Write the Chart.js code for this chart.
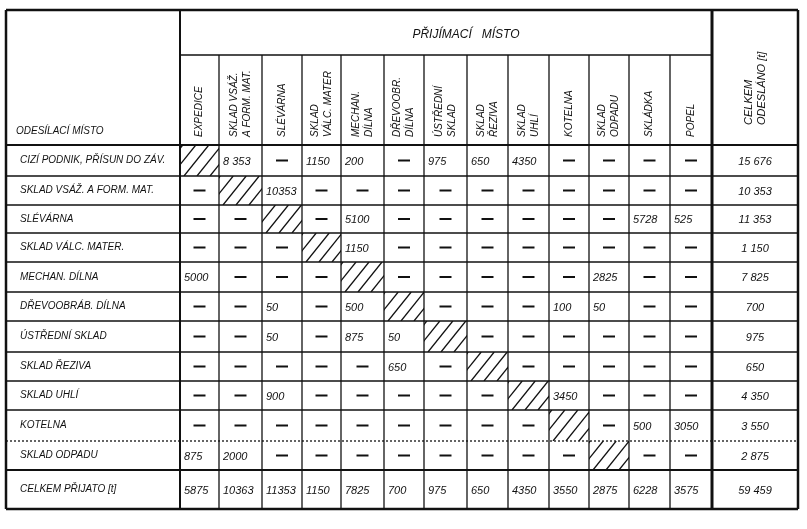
<!DOCTYPE html>
<html><head><meta charset="utf-8">
<script src="https://cdn.jsdelivr.net/npm/chart.js@4"></script>
<style>html,body{margin:0;background:#fff}#w{width:807px;height:529px}</style>
</head><body><div id="w"><canvas id="c"></canvas></div>
<script>
// ---- data ----
const receivers = [["EXPEDICE"],["SKLAD VSÁŽ.","A FORM. MAT."],["SLÉVÁRNA"],["SKLAD","VÁLC. MATER"],["MECHAN.","DÍLNA"],["DŘEVOOBR.","DÍLNA"],["ÚSTŘEDNÍ","SKLAD"],["SKLAD","ŘEZIVA"],["SKLAD","UHLÍ"],["KOTELNA"],["SKLAD","ODPADU"],["SKLÁDKA"],["POPEL"]];
const senders = ["CIZÍ PODNIK, PŘÍSUN DO ZÁV.","SKLAD VSÁŽ. A FORM. MAT.","SLÉVÁRNA","SKLAD VÁLC. MATER.","MECHAN. DÍLNA","DŘEVOOBRÁB. DÍLNA","ÚSTŘEDNÍ SKLAD","SKLAD ŘEZIVA","SKLAD UHLÍ","KOTELNA","SKLAD ODPADU"];
const X = "X";
const flows = [
 [X,"8 353",null,"1150","200",null,"975","650","4350",null,null,null,null],
 [null,X,"10353",null,null,null,null,null,null,null,null,null,null],
 [null,null,X,null,"5100",null,null,null,null,null,null,"5728","525"],
 [null,null,null,X,"1150",null,null,null,null,null,null,null,null],
 ["5000",null,null,null,X,null,null,null,null,null,"2825",null,null],
 [null,null,"50",null,"500",X,null,null,null,"100","50",null,null],
 [null,null,"50",null,"875","50",X,null,null,null,null,null,null],
 [null,null,null,null,null,"650",null,X,null,null,null,null,null],
 [null,null,"900",null,null,null,null,null,X,"3450",null,null,null],
 [null,null,null,null,null,null,null,null,null,X,null,"500","3050"],
 ["875","2000",null,null,null,null,null,null,null,null,X,null,null]
];
const sentTotals = ["15 676","10 353","11 353","1 150","7 825","700","975","650","4 350","3 550","2 875"];
const receivedTotals = ["5875","10363","11353","1150","7825","700","975","650","4350","3550","2875","6228","3575"];
const grandTotal = "59 459";
const titleText = "PŘIJÍMACÍ   MÍSTO";
const senderHead = "ODESÍLACÍ MÍSTO";
const totalHead = ["CELKEM","ODESLÁNO [t]"];
const receivedHead = "CELKEM PŘIJATO [t]";

// ---- layout (grid edges in scale units) ----
const colEdges = [6,180,219,262,302,341,384,424,467,508,549,589,629,670,712,798];
const rowEdges = [10,55,145,176,205,233,262,292,321,352,381,410,441,470,509];

const F = "italic 11px 'Liberation Sans', 'DejaVu Sans', sans-serif";
const tablePlugin = {
  id:'table',
  afterDraw(chart){
    const c = chart.ctx, xs = chart.scales.x, ys = chart.scales.y;
    const px = v=>xs.getPixelForValue(v), py = v=>ys.getPixelForValue(v);
    const L=px(colEdges[0]), R=px(colEdges[15]), T=py(rowEdges[0]), B=py(rowEdges[14]);
    c.save(); c.strokeStyle='#111'; c.fillStyle='#111';
    const line=(x1,y1,x2,y2,w,dash)=>{c.lineWidth=w;c.setLineDash(dash||[]);c.beginPath();c.moveTo(x1,y1);c.lineTo(x2,y2);c.stroke();c.setLineDash([]);};
    line(L,T,R,T,2.5); line(L,B,R,B,2.5); line(L,T,L,B,2.5); line(R,T,R,B,2.5);
    line(px(colEdges[1]),T,px(colEdges[1]),B,2);
    line(px(colEdges[14]),T,px(colEdges[14]),B,3);
    line(px(colEdges[1]),py(rowEdges[1]),px(colEdges[14]),py(rowEdges[1]),1.5);
    for(let i=2;i<14;i++){ line(L,py(rowEdges[i]),R,py(rowEdges[i]),(i==2||i==13)?2:1.3, i==12?[2,2]:null); }
    for(let j=2;j<14;j++){ line(px(colEdges[j]),py(rowEdges[1]),px(colEdges[j]),B,1.3); }
    c.textBaseline='middle';
    c.textAlign='center'; c.font="italic 12px 'Liberation Sans', sans-serif";
    c.fillText(titleText,(px(colEdges[1])+px(colEdges[14]))/2+20,py(35));
    c.textAlign='left'; c.font="italic 10px 'Liberation Sans', sans-serif"; c.fillText(senderHead,px(16),py(131));
    const rot=(lines,cx,bottom)=>{c.save();c.translate(cx,bottom);c.rotate(-Math.PI/2);c.textAlign='left';
      const n=lines.length; lines.forEach((t,k)=>c.fillText(t,0,(k-(n-1)/2)*13));c.restore();};
    c.font="italic 10px 'Liberation Sans', sans-serif";
    receivers.forEach((r,j)=>rot(r,(px(colEdges[j+1])+px(colEdges[j+2]))/2,py(137)));
    c.font="italic 11px 'Liberation Sans', sans-serif";
    rot(totalHead,(px(colEdges[14])+px(colEdges[15]))/2,py(125));
    c.font=F;
    const cell=(txt,j,i,align)=>{
      const x1=px(colEdges[j]),x2=px(colEdges[j+1]),y1=py(rowEdges[i]),y2=py(rowEdges[i+1]),cy=(y1+y2)/2;
      if(txt===X){c.save();c.beginPath();c.rect(x1,y1,x2-x1,y2-y1);c.clip();c.lineWidth=1.3;
        for(let k=-2;k<4;k++){const sx=x1+4+k*13;c.beginPath();c.moveTo(sx,y2);c.lineTo(sx+(y2-y1)*0.8,y1);c.stroke();}c.restore();return;}
      if(txt==null){line((x1+x2)/2-6,cy,(x1+x2)/2+6,cy,2);return;}
      c.textAlign=align||'left'; c.fillText(txt,align==='center'?(x1+x2)/2:x1+4,cy+1);
    };
    senders.forEach((s,i)=>{
      c.font="italic 10px 'Liberation Sans', sans-serif";
      c.textAlign='left'; c.fillText(s,px(20),(py(rowEdges[i+2])+py(rowEdges[i+3]))/2);
      c.font=F;
      flows[i].forEach((v,j)=>cell(v,j+1,i+2));
      cell(sentTotals[i],14,i+2,'center');
    });
    c.font="italic 10px 'Liberation Sans', sans-serif";
    c.textAlign='left'; c.fillText(receivedHead,px(20),(py(rowEdges[13])+py(rowEdges[14]))/2);
    c.font=F;
    receivedTotals.forEach((v,j)=>cell(v,j+1,13));
    cell(grandTotal,14,13,'center');
    c.restore();
  }
};
new Chart(document.getElementById('c'),{
  type:'scatter',
  data:{datasets:[{data:[],pointRadius:0}]},
  options:{responsive:true,maintainAspectRatio:false,animation:false,
    layout:{padding:0},
    plugins:{legend:{display:false},tooltip:{enabled:false}},
    scales:{x:{type:'linear',min:0,max:807,display:false},y:{type:'linear',min:0,max:529,reverse:true,display:false}}},
  plugins:[tablePlugin]
});
</script></body></html>
